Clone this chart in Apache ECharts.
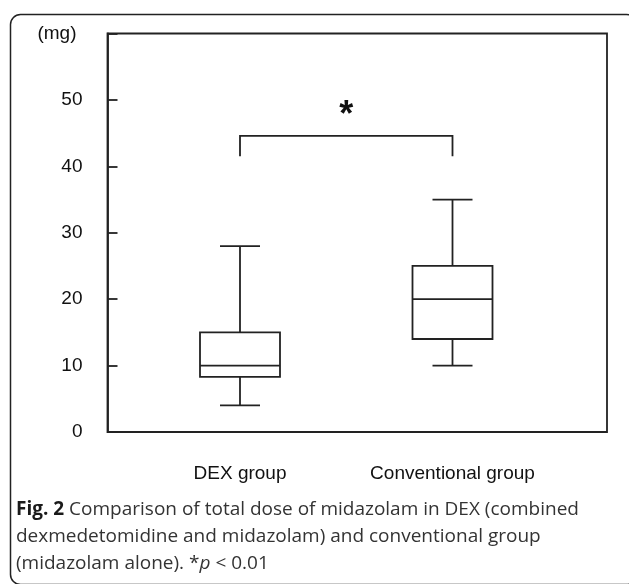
<!DOCTYPE html>
<html>
<head>
<meta charset="utf-8">
<script src="https://cdn.jsdelivr.net/npm/echarts@6/dist/echarts.min.js"></script>
<style>
html,body{margin:0;padding:0;background:#fff;}
#chart{width:629px;height:584px;}
</style>
</head>
<body>
<div id="chart"></div>
<script>
// ---- data ----
const categories = ['DEX group', 'Conventional group'];
// [min, Q1, median, Q3, max]
const dexBox = [4, 8.3, 10, 15, 28];
const convBox = [10, 14, 20, 25, 35];
const yTicks = [0, 10, 20, 30, 40, 50];
const yMin = 0, yMax = 60, yInterval = 10;
const yUnit = '(mg)';
// significance bracket: [fromIndex, toIndex, legBottom, barY, starY]
const bracket = [0, 1, 41.5, 44.6, 47.6];
const sigMark = '*';
const captionBold = 'Fig. 2';
const captionLines = [
  ' Comparison of total dose of midazolam in DEX (combined',
  'dexmedetomidine and midazolam) and conventional group',
  '(midazolam alone). *p < 0.01'
];

// ---- chart ----
const INK = '#222';
const LW = 1.8;
const AXFONT = '"Liberation Sans", Arial, sans-serif';
const chart = echarts.init(document.getElementById('chart'));

const boxData = [dexBox, convBox].map((b, i) => [i].concat(b));

function renderBox(params, api) {
  const x = api.value(0);
  const pMin = api.coord([x, api.value(1)]);
  const pQ1 = api.coord([x, api.value(2)]);
  const pMed = api.coord([x, api.value(3)]);
  const pQ3 = api.coord([x, api.value(4)]);
  const pMax = api.coord([x, api.value(5)]);
  const cx = pMin[0];
  const hb = 40, hc = 20;
  const st = { stroke: INK, lineWidth: LW, fill: null };
  return {
    type: 'group',
    children: [
      { type: 'rect', shape: { x: cx - hb, y: pQ3[1], width: hb * 2, height: pQ1[1] - pQ3[1] }, style: st },
      { type: 'line', shape: { x1: cx - hb, y1: pMed[1], x2: cx + hb, y2: pMed[1] }, style: st },
      { type: 'line', shape: { x1: cx, y1: pQ3[1], x2: cx, y2: pMax[1] }, style: st },
      { type: 'line', shape: { x1: cx, y1: pQ1[1], x2: cx, y2: pMin[1] }, style: st },
      { type: 'line', shape: { x1: cx - hc, y1: pMax[1], x2: cx + hc, y2: pMax[1] }, style: st },
      { type: 'line', shape: { x1: cx - hc, y1: pMin[1], x2: cx + hc, y2: pMin[1] }, style: st }
    ]
  };
}

function renderBracket(params, api) {
  const a = api.coord([api.value(0), api.value(2)]);
  const b = api.coord([api.value(1), api.value(2)]);
  const top = api.coord([api.value(0), api.value(3)])[1];
  const star = api.coord([api.value(0), api.value(4)])[1];
  const st = { stroke: INK, lineWidth: LW, fill: null };
  return {
    type: 'group',
    children: [
      { type: 'polyline', shape: { points: [[a[0], a[1]], [a[0], top], [b[0], top], [b[0], b[1]]] }, style: st },
      { type: 'text', style: { text: sigMark, x: (a[0] + b[0]) / 2, y: star, align: 'center', verticalAlign: 'middle',
        font: 'bold 36px ' + AXFONT, fill: '#111' } }
    ]
  };
}

const option = {
  animation: false,
  backgroundColor: '#fff',
  grid: [
    { left: 107.5, right: 22, top: 33.5, bottom: 152, show: true, borderColor: INK, borderWidth: LW, backgroundColor: 'transparent' },
    { left: 133.75, right: 70.25, top: 33.5, bottom: 152 }
  ],
  xAxis: [
    { type: 'value', gridIndex: 0, min: 0, max: 1, show: false },
    { type: 'category', gridIndex: 1, data: categories, boundaryGap: true,
      axisLine: { show: false }, axisTick: { show: false }, splitLine: { show: false },
      axisLabel: { margin: 32, color: '#111', fontSize: 19, fontFamily: AXFONT, interval: 0 } }
  ],
  yAxis: [
    { type: 'value', gridIndex: 0, min: yMin, max: yMax, interval: yInterval,
      name: yUnit, nameLocation: 'end', nameGap: 0,
      nameTextStyle: { align: 'right', verticalAlign: 'middle', padding: [0, 31, 0, 0], color: '#111', fontSize: 19, fontFamily: AXFONT },
      axisLine: { show: true, lineStyle: { color: INK, width: LW } },
      axisTick: { show: true, inside: true, length: 10, lineStyle: { color: INK, width: LW } },
      splitLine: { show: false },
      axisLabel: { margin: 25, color: '#111', fontSize: 19, fontFamily: AXFONT,
        formatter: v => (yTicks.indexOf(v) >= 0 ? String(v) : '') } },
    { type: 'value', gridIndex: 1, min: yMin, max: yMax, show: false }
  ],
  series: [
    { type: 'custom', xAxisIndex: 1, yAxisIndex: 1, renderItem: renderBox, data: boxData,
      encode: { x: 0, y: [1, 2, 3, 4, 5] }, silent: true, clip: false },
    { type: 'custom', xAxisIndex: 1, yAxisIndex: 1, renderItem: renderBracket, data: [bracket],
      encode: { x: [0, 1], y: [2, 3, 4] }, silent: true, clip: false }
  ],
  graphic: [
    { type: 'rect', left: 8, top: 12, shape: { width: 626, height: 570, r: 10 }, style: { fill: null, stroke: INK, lineWidth: 1.5 }, silent: true },
    { type: 'text', left: 16, top: 496, style: {
        text: '{b|' + captionBold + '}' + captionLines[0] + '\n' + captionLines[1] + '\n' + captionLines[2].replace('*p', '*{i|p}'),
        font: '19px "Open Sans", sans-serif', fill: '#333', lineHeight: 27,
        rich: { b: { font: 'bold 19px "Open Sans", sans-serif', fill: '#1a1a1a', lineHeight: 27 },
                i: { font: 'italic 19px "Open Sans", sans-serif', fill: '#333', lineHeight: 27 } } }, silent: true }
  ]
};
chart.setOption(option);
</script>
</body>
</html>
